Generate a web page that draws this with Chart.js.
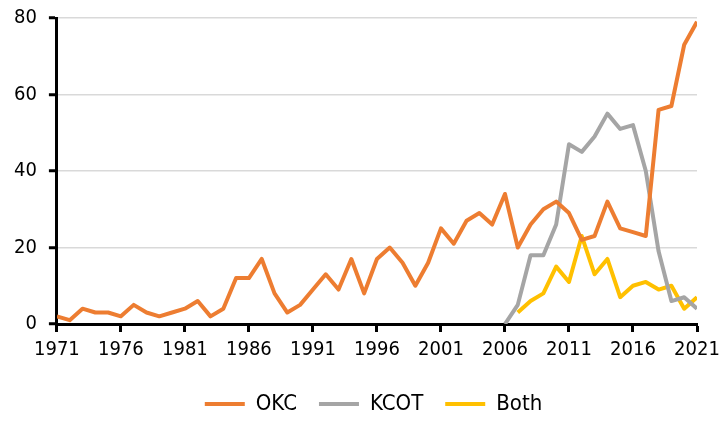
<!DOCTYPE html>
<html><head><meta charset="utf-8">
<script src="https://cdn.jsdelivr.net/npm/chart.js@4"></script>
<style>html,body{margin:0;padding:0;background:#fff;}#wrap{width:727px;height:422px;}</style>
</head><body><div id="wrap"><canvas id="c" width="727" height="422"></canvas></div>
<script>
const years = [1971,1972,1973,1974,1975,1976,1977,1978,1979,1980,1981,1982,1983,1984,1985,1986,1987,1988,1989,1990,1991,1992,1993,1994,1995,1996,1997,1998,1999,2000,2001,2002,2003,2004,2005,2006,2007,2008,2009,2010,2011,2012,2013,2014,2015,2016,2017,2018,2019,2020,2021];
const okc = [2,1,4,3,3,2,5,3,2,3,4,6,2,4,12,12,17,8,3,5,9,13,9,17,8,17,20,16,10,16,25,21,27,29,26,34,20,26,30,32,29,22,23,32,25,24,23,56,57,73,79];
const kcotYears = [2006,2007,2008,2009,2010,2011,2012,2013,2014,2015,2016,2017,2018,2019,2020,2021];
const kcot = [0,5,18,18,26,47,45,49,55,51,52,40,19,6,7,4];
const bothYears = [2007,2008,2009,2010,2011,2012,2013,2014,2015,2016,2017,2018,2019,2020,2021];
const both = [3,6,8,15,11,23,13,17,7,10,11,9,10,4,7];
const xTicks = [1971,1976,1981,1986,1991,1996,2001,2006,2011,2016,2021];
const yTicks = [0,20,40,60,80];

const pts = (xs, ys) => xs.map((x,i)=>({x:x,y:ys[i]}));
const FONT = "'DejaVu Sans Condensed', 'Liberation Sans', sans-serif";

const shiftLegend = {
  id: 'shiftLegend',
  afterLayout(chart) {
    const lg = chart.legend;
    if (lg) { lg.left += 24; lg.right += 24; lg.top += 3; lg.bottom += 3; }
  }
};

new Chart(document.getElementById('c'), {
  type: 'line',
  data: {
    datasets: [
      {label:'OKC', data: pts(years, okc), borderColor:'#ED7D31', backgroundColor:'#ED7D31', borderWidth:4},
      {label:'KCOT', data: pts(kcotYears, kcot), borderColor:'#A5A5A5', backgroundColor:'#A5A5A5', borderWidth:4},
      {label:'Both', data: pts(bothYears, both), borderColor:'#FFC000', backgroundColor:'#FFC000', borderWidth:4}
    ]
  },
  plugins: [shiftLegend],
  options: {
    responsive:false, animation:false,
    layout:{padding:{left:2,right:30,top:10,bottom:0}},
    elements:{line:{borderWidth:4, tension:0, borderJoinStyle:'round'}, point:{radius:0}},
    plugins:{
      tooltip:{enabled:false},
      legend:{position:'bottom', labels:{usePointStyle:true, pointStyle:'line', pointStyleWidth:40, boxHeight:4, padding:22, color:'#000', font:{family:FONT, size:22}}}
    },
    scales:{
      x:{type:'linear', min:1971, max:2021,
        afterBuildTicks: s => { s.ticks = xTicks.map(v=>({value:v})); },
        ticks:{color:'#000', font:{family:FONT, size:20}, padding:6, maxRotation:0, autoSkip:false, callback:v=>String(v)},
        grid:{drawOnChartArea:false, tickColor:'#000', tickLength:8, tickWidth:3},
        border:{color:'#000', width:3}
      },
      y:{min:0, max:80,
        afterBuildTicks: s => { s.ticks = yTicks.map(v=>({value:v})); },
        ticks:{color:'#000', font:{family:FONT, size:20, lineHeight:0.6}, padding:12},
        grid:{color:'#d9d9d9', lineWidth:1.5, tickColor:'#000', tickLength:8, tickWidth:3},
        border:{color:'#000', width:3}
      }
    }
  }
});
</script></body></html>
